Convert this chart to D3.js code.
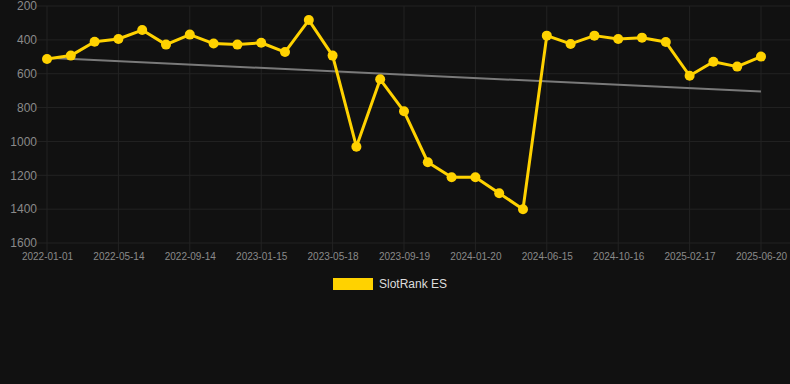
<!DOCTYPE html>
<html lang="en">
<head>
    <meta charset="UTF-8">
    <script src="https://d3js.org/d3.v7.min.js"></script>
    <title>SlotRank ES</title>
    <style>
        html, body { margin: 0; padding: 0; background: #111111; }
        svg { display: block; font-family: "Liberation Sans", Arial, sans-serif; }
    </style>
</head>
<body>
<svg width="790" height="384"></svg>
<script>
    // dates of each point (category axis, evenly spaced)
    const dates = [
        "2022-01-01", "2022-02-13", "2022-03-30", "2022-05-14", "2022-06-24", "2022-08-04",
        "2022-09-14", "2022-10-25", "2022-12-05", "2023-01-15", "2023-02-25", "2023-04-07",
        "2023-05-18", "2023-06-28", "2023-08-09", "2023-09-19", "2023-10-30", "2023-12-10",
        "2024-01-20", "2024-03-08", "2024-04-27", "2024-06-15", "2024-07-26", "2024-09-05",
        "2024-10-16", "2024-11-26", "2025-01-06", "2025-02-17", "2025-03-30", "2025-05-10",
        "2025-06-20"
    ];
    // rank values (lower is better, axis reversed)
    const ranks = [
        513, 493, 411, 395, 342, 428, 369, 422, 428, 417, 472, 283,
        493, 1031, 633, 822, 1123, 1212, 1212, 1306, 1401, 375, 424, 375,
        395, 387, 413, 612, 529, 558, 499
    ];
    const xTickLabels = [
        "2022-01-01", "2022-05-14", "2022-09-14", "2023-01-15", "2023-05-18", "2023-09-19",
        "2024-01-20", "2024-06-15", "2024-10-16", "2025-02-17", "2025-06-20"
    ];
    const yTicks = [200, 400, 600, 800, 1000, 1200, 1400, 1600];
    const seriesName = "SlotRank ES";

    const data = dates.map((d, i) => ({ date: d, value: ranks[i] }));

    const svg = d3.select("svg");
    const plotLeft = 47, plotRight = 761, plotTop = 6, plotBottom = 243;

    const xScale = d3.scalePoint().domain(dates).range([plotLeft, plotRight]);
    const yScale = d3.scaleLinear().domain([200, 1600]).range([plotTop, plotBottom]);

    // horizontal grid
    svg.append("g").selectAll("line")
        .data(yTicks).enter().append("line")
        .attr("x1", 37).attr("x2", 790)
        .attr("y1", d => yScale(d)).attr("y2", d => yScale(d))
        .attr("stroke", "#232323").attr("stroke-width", 1);

    // vertical grid (only at labelled dates)
    svg.append("g").selectAll("line")
        .data(xTickLabels).enter().append("line")
        .attr("x1", d => xScale(d)).attr("x2", d => xScale(d))
        .attr("y1", plotTop).attr("y2", plotBottom + 10)
        .attr("stroke", "#232323").attr("stroke-width", 1);

    // y axis labels
    const yAxis = d3.axisLeft(yScale).tickValues(yTicks).tickFormat(d3.format("d"))
        .tickSize(0).tickPadding(0);
    const yG = svg.append("g").attr("transform", "translate(37,0)").call(yAxis);
    yG.select(".domain").remove();
    yG.selectAll("text").attr("fill", "#8a8a8a").style("font-size", "12px")
        .style("font-family", "\"Liberation Sans\", Arial, sans-serif");

    // x axis labels
    const xAxis = d3.axisBottom(xScale).tickValues(xTickLabels).tickSize(0).tickPadding(0);
    const xG = svg.append("g").attr("transform", "translate(0," + (plotBottom + 10) + ")").call(xAxis);
    xG.select(".domain").remove();
    xG.selectAll("text").attr("fill", "#8a8a8a").attr("dy", "0.71em").style("font-size", "10px")
        .style("font-family", "\"Liberation Sans\", Arial, sans-serif");

    // trend line (least squares over point index)
    const n = ranks.length;
    const mx = d3.mean(ranks, (d, i) => i);
    const my = d3.mean(ranks);
    const slope = d3.sum(ranks, (d, i) => (i - mx) * (d - my)) / d3.sum(ranks, (d, i) => (i - mx) * (i - mx));
    const trend = [0, n - 1].map(i => ({ date: dates[i], value: my + slope * (i - mx) }));

    const line = d3.line().x(d => xScale(d.date)).y(d => yScale(d.value));

    svg.append("path")
        .attr("d", line(trend))
        .attr("fill", "none")
        .attr("stroke", "#7a7a7a")
        .attr("stroke-width", 2);

    svg.append("path")
        .attr("d", line(data))
        .attr("fill", "none")
        .attr("stroke", "#FFD200")
        .attr("stroke-width", 3)
        .attr("stroke-linejoin", "round");

    svg.append("g").selectAll("circle")
        .data(data).enter().append("circle")
        .attr("cx", d => xScale(d.date))
        .attr("cy", d => yScale(d.value))
        .attr("r", 5)
        .attr("fill", "#FFD200");

    // legend
    const legend = svg.append("g").attr("transform", "translate(333,278)");
    legend.append("rect").attr("width", 40).attr("height", 12).attr("fill", "#FFD200");
    legend.append("text").attr("x", 46).attr("y", 6).attr("dy", "0.35em")
        .attr("fill", "#dddddd").style("font-size", "12px").text(seriesName);
</script>
</body>
</html>
